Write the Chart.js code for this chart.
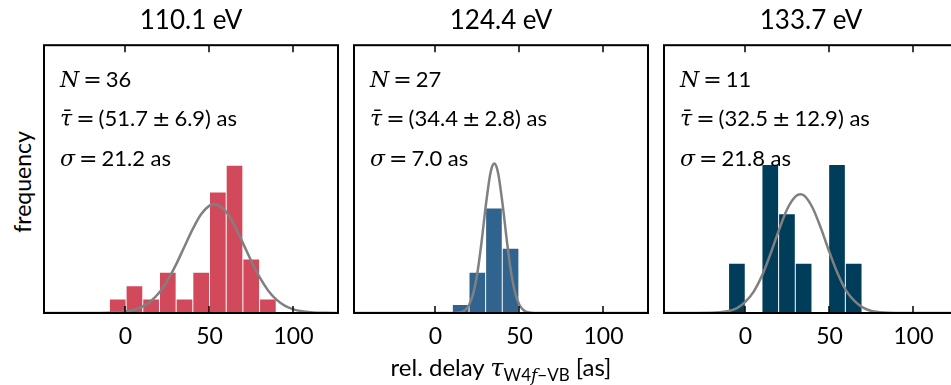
<!DOCTYPE html>
<html>
<head>
<meta charset="utf-8">
<title>delay histograms</title>
<script src="https://cdn.jsdelivr.net/npm/chart.js@4"></script>
<style>
    body { margin: 0; background: #fff; }
    #page { position: relative; width: 951px; height: 385px; overflow: hidden; background: #fff; }
    canvas { position: absolute; top: 0; }
    .txt { position: absolute; font-family: Lato, "DejaVu Sans", sans-serif; color: #000; white-space: nowrap; line-height: 1; }
    .m { font-family: "DejaVu Serif", "Liberation Serif", serif; font-style: italic; }
    .op { font-family: "DejaVu Sans", sans-serif; margin: 0 4px; }
    .stat { font-size: 22px; }
    sub { font-size: 17px; vertical-align: -5px; }
</style>
</head>
<body>
<div id="page">
    <canvas id="chart0" width="302" height="385"></canvas>
    <canvas id="chart1" width="302" height="385"></canvas>
    <canvas id="chart2" width="302" height="385"></canvas>
</div>
<script>
// panel titles and colours
const panelTitles = ['110.1 eV', '124.4 eV', '133.7 eV'];
const panelColors = ['#d1495b', '#30638e', '#003d5b'];
const fitColor = '#808080';

// shared x axis (as)
const xMin = -48.5;
const xMax = 126.5;
const xTickValues = [0, 50, 100];

// y range of each panel (counts)
const yMaxValues = [20.0, 33.3, 5.43];

// histogram: bin centres and counts
const binCenters110 = [-4.6, 5.33, 15.26, 25.19, 35.12, 45.05, 54.98, 64.91, 74.84, 84.77];
const counts110 = [1, 2, 1, 3, 1, 3, 9, 11, 4, 1];
const binCenters124 = [15.0, 24.9, 34.8, 44.7];
const counts124 = [1, 5, 13, 8];
const binCenters134 = [-5.1, 14.76, 24.69, 34.62, 54.48, 64.41];
const counts134 = [1, 3, 2, 1, 3, 1];

// gaussian fit curves
const fitX110 = [-48.5, -20, -10, -5, 0, 5, 10, 15, 20, 25, 30, 35, 40, 45, 50, 53, 55, 60, 65, 70, 75, 80, 85, 90, 95, 100, 105, 110, 115, 120, 126.5];
const fitY110 = [0, 0, 0.02, 0.05, 0.11, 0.23, 0.47, 0.88, 1.51, 2.42, 3.59, 4.93, 6.26, 7.37, 8.02, 8.13, 8.08, 7.54, 6.51, 5.20, 3.85, 2.64, 1.67, 0.98, 0.53, 0.27, 0.13, 0.05, 0.02, 0.01, 0];
const fitX124 = [-48.5, 5, 10, 12.5, 15, 17.5, 20, 22.5, 25, 27.5, 30, 32.5, 33.75, 35, 36.25, 37.5, 40, 42.5, 45, 47.5, 50, 52.5, 55, 57.5, 60, 65, 126.5];
const fitY124 = [0, 0, 0.005, 0.03, 0.10, 0.35, 1.0, 2.44, 5.06, 8.95, 13.43, 17.15, 18.23, 18.6, 18.23, 17.15, 13.43, 8.95, 5.06, 2.44, 1.0, 0.35, 0.10, 0.03, 0.005, 0, 0];
const fitX134 = [-48.5, -20, -15, -10, -5, 0, 5, 10, 15, 20, 25, 30, 32.6, 35, 40, 45, 50, 55, 60, 65, 70, 75, 80, 85, 95, 126.5];
const fitY134 = [0, 0.005, 0.016, 0.04, 0.10, 0.23, 0.44, 0.77, 1.21, 1.69, 2.12, 2.37, 2.41, 2.38, 2.13, 1.71, 1.23, 0.79, 0.45, 0.24, 0.11, 0.04, 0.016, 0.005, 0, 0];

// statistics printed in each panel
const nValues = ['36', '27', '11'];
const meanValues = ['51.7', '34.4', '32.5'];
const meanErrors = ['6.9', '2.8', '12.9'];
const sigmaValues = ['21.2', '7.0', '21.8'];

const textFont = 'Lato, "DejaVu Sans", sans-serif';
const panelLeft = [44, 354, 664];   // left edge of each frame
const panelPad = 4;

// frame and inward ticks drawn over the data
const framePlugin = {
    id: 'frame',
    afterDatasetsDraw(chart) {
        const ctx = chart.ctx;
        const a = chart.chartArea;
        const x = chart.scales.x;
        ctx.save();
        ctx.strokeStyle = '#000';
        ctx.lineWidth = 1.5;
        xTickValues.forEach(v => {
            const px = Math.round(x.getPixelForValue(v));
            ctx.beginPath();
            ctx.moveTo(px, a.top);
            ctx.lineTo(px, a.top + 7);
            ctx.moveTo(px, a.bottom);
            ctx.lineTo(px, a.bottom - 7);
            ctx.stroke();
        });
        ctx.lineWidth = 2;
        ctx.strokeRect(a.left, a.top, a.width, a.height);
        ctx.restore();
    }
};

function toPoints(xs, ys) {
    return xs.map((v, i) => ({ x: v, y: ys[i] }));
}

function renderPanel(i, centers, counts, fitX, fitY) {
    const canvas = document.getElementById('chart' + i);
    canvas.style.left = (panelLeft[i] - panelPad) + 'px';

    new Chart(canvas.getContext('2d'), {
        type: 'bar',
        data: {
            datasets: [{
                type: 'line',
                data: toPoints(fitX, fitY),
                borderColor: fitColor,
                borderWidth: 2.5,
                pointRadius: 0,
                cubicInterpolationMode: 'monotone',
                order: 0
            }, {
                type: 'bar',
                data: toPoints(centers, counts),
                backgroundColor: panelColors[i],
                borderWidth: 0,
                barPercentage: 0.94,
                categoryPercentage: 1.0,
                order: 1
            }]
        },
        options: {
            responsive: false,
            animation: false,
            layout: { padding: { left: panelPad, right: panelPad, top: 0, bottom: 0 } },
            scales: {
                x: {
                    type: 'linear',
                    min: xMin,
                    max: xMax,
                    offset: false,
                    grid: { display: false, drawTicks: false },
                    border: { display: false },
                    afterBuildTicks: s => { s.ticks = xTickValues.map(v => ({ value: v })); },
                    afterFit: s => { s.height = 72; },
                    ticks: {
                        padding: 10,
                        color: '#000',
                        maxRotation: 0,
                        font: { family: textFont, size: 23 }
                    }
                },
                y: {
                    display: false,
                    min: 0,
                    max: yMaxValues[i]
                }
            },
            plugins: {
                legend: { display: false },
                tooltip: { enabled: false },
                title: {
                    display: true,
                    text: panelTitles[i],
                    color: '#000',
                    font: { family: textFont, size: 26, weight: 'normal', lineHeight: 1.2 },
                    padding: { top: 5, bottom: 9 }
                }
            }
        },
        plugins: [framePlugin]
    });

    // statistics text
    const page = document.getElementById('page');
    const eq = '<span class="op">=</span>';
    const lines = [
        '<span class="m">N</span>' + eq + nValues[i],
        '<span class="m">τ̄</span>' + eq + '(' + meanValues[i] + '<span class="op">±</span>' + meanErrors[i] + ') as',
        '<span class="m">σ</span>' + eq + sigmaValues[i] + ' as'
    ];
    const tops = [68, 107, 147];
    lines.forEach((html, k) => {
        const d = document.createElement('div');
        d.className = 'txt stat';
        d.style.left = (panelLeft[i] + 16) + 'px';
        d.style.top = tops[k] + 'px';
        d.innerHTML = html;
        page.appendChild(d);
    });
}

function addAxisLabels() {
    const page = document.getElementById('page');

    const yLabel = document.createElement('div');
    yLabel.className = 'txt';
    yLabel.style.fontSize = '23px';
    yLabel.style.left = '22px';
    yLabel.style.top = '182px';
    yLabel.style.transform = 'translate(-50%, -50%) rotate(-90deg)';
    yLabel.textContent = 'frequency';
    page.appendChild(yLabel);

    const xLabel = document.createElement('div');
    xLabel.className = 'txt';
    xLabel.style.fontSize = '24px';
    xLabel.style.left = '501px';
    xLabel.style.top = '355px';
    xLabel.style.transform = 'translateX(-50%)';
    xLabel.innerHTML = 'rel. delay <span class="m">τ</span><sub>W4<span class="m">f</span>−VB</sub> [as]';
    page.appendChild(xLabel);
}

document.addEventListener('DOMContentLoaded', function() {
    renderPanel(0, binCenters110, counts110, fitX110, fitY110);
    renderPanel(1, binCenters124, counts124, fitX124, fitY124);
    renderPanel(2, binCenters134, counts134, fitX134, fitY134);
    addAxisLabels();
});
</script>
</body>
</html>
